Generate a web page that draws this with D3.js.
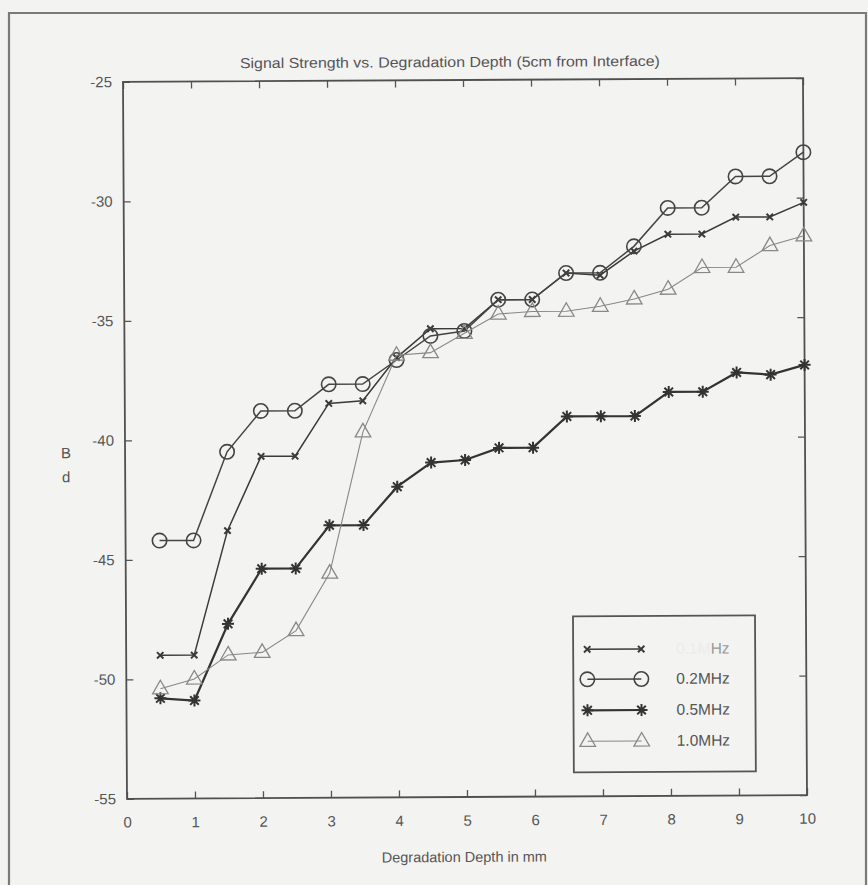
<!DOCTYPE html>
<html>
<head>
<meta charset="utf-8">
<script src="https://cdn.jsdelivr.net/npm/d3@7/dist/d3.min.js"></script>
<style>
  html, body { margin: 0; padding: 0; background: #f3f3f2; }
  svg { display: block; }
  text { font-family: "Liberation Sans", Arial, Helvetica, sans-serif; fill: #555; }
</style>
</head>
<body>
<div id="chart"></div>
<script>
// Degradation depth (mm) at which each reading was taken
const depth = [0.5, 1, 1.5, 2, 2.5, 3, 3.5, 4, 4.5, 5, 5.5, 6, 6.5, 7, 7.5, 8, 8.5, 9, 9.5, 10];

// Signal strength (dB) per frequency
const s01 = [-49.0, -49.0, -43.8, -40.7, -40.7, -38.5, -38.4, -36.6, -35.4, -35.4, -34.2, -34.2, -33.1, -33.2, -32.2, -31.5, -31.5, -30.8, -30.8, -30.2];
const s02 = [-44.2, -44.2, -40.5, -38.8, -38.8, -37.7, -37.7, -36.7, -35.7, -35.5, -34.2, -34.2, -33.1, -33.1, -32.0, -30.4, -30.4, -29.1, -29.1, -28.1];
const s05 = [-50.8, -50.9, -47.7, -45.4, -45.4, -43.6, -43.6, -42.0, -41.0, -40.9, -40.4, -40.4, -39.1, -39.1, -39.1, -38.1, -38.1, -37.3, -37.4, -37.0];
const s10 = [-50.4, -50.0, -49.0, -48.9, -48.0, -45.6, -39.7, -36.5, -36.4, -35.6, -34.8, -34.7, -34.7, -34.5, -34.2, -33.8, -32.9, -32.9, -32.0, -31.6];

const seriesNames = ["0.1MHz", "0.2MHz", "0.5MHz", "1.0MHz"];
const xTicks = [0, 1, 2, 3, 4, 5, 6, 7, 8, 9, 10];
const yTicks = [-55, -50, -45, -40, -35, -30, -25];

const W = 868, H = 885;
const box = { left: 125, right: 805, top: 80, bottom: 797 };

const svg = d3.select("#chart").append("svg")
  .attr("width", W).attr("height", H);

svg.append("rect").attr("width", W).attr("height", H).attr("fill", "#f3f3f2");

// outer page frame
svg.append("path")
  .attr("d", "M9,890 L9,13 L866,13 L866,890")
  .attr("fill", "none").attr("stroke", "#7a7a7a").attr("stroke-width", 2.2);

const g = svg.append("g").attr("transform", "rotate(-0.32,465,440)");

const x = d3.scaleLinear().domain([0, 10]).range([box.left, box.right]);
const y = d3.scaleLinear().domain([-55, -25]).range([box.bottom, box.top]);

// title
g.append("text")
  .attr("x", 452).attr("y", 67)
  .attr("text-anchor", "middle")
  .attr("font-size", 14.5)
  .attr("textLength", 420).attr("lengthAdjust", "spacingAndGlyphs")
  .text("Signal Strength vs. Degradation Depth (5cm from Interface)");

// axes with inward ticks on all four sides
const tickLen = 7;
const plainNum = d => String(d);   // ASCII hyphen for negatives
const axStyle = sel => {
  sel.select(".domain").remove();
  sel.selectAll(".tick line").attr("stroke", "#555").attr("stroke-width", 1.3);
  sel.selectAll(".tick text").attr("fill", "#5a5a5a").attr("font-size", 15)
    .attr("font-family", "\"Liberation Sans\", Arial, sans-serif");
};

g.append("g").attr("transform", `translate(0,${box.bottom})`)
  .call(d3.axisBottom(x).tickValues(xTicks).tickSizeInner(-tickLen).tickSizeOuter(0).tickPadding(18).tickFormat(plainNum))
  .call(axStyle);
g.append("g").attr("transform", `translate(0,${box.top})`)
  .call(d3.axisTop(x).tickValues(xTicks).tickSizeInner(-tickLen).tickSizeOuter(0).tickFormat(""))
  .call(axStyle);
g.append("g").attr("transform", `translate(${box.left},0)`)
  .call(d3.axisLeft(y).tickValues(yTicks).tickSizeInner(-tickLen).tickSizeOuter(0).tickPadding(11).tickFormat(plainNum))
  .call(axStyle);
g.append("g").attr("transform", `translate(${box.right},0)`)
  .call(d3.axisRight(y).tickValues(yTicks).tickSizeInner(-tickLen).tickSizeOuter(0).tickFormat(""))
  .call(axStyle);

// plot frame
g.append("rect")
  .attr("x", box.left).attr("y", box.top)
  .attr("width", box.right - box.left).attr("height", box.bottom - box.top)
  .attr("fill", "none").attr("stroke", "#505050").attr("stroke-width", 1.8);

// axis labels
g.append("text").attr("x", 462).attr("y", 862).attr("text-anchor", "middle")
  .attr("font-size", 14.5).text("Degradation Depth in mm");
g.append("text").attr("x", 66).attr("y", 456).attr("text-anchor", "middle")
  .attr("font-size", 15).text("B");
g.append("text").attr("x", 66).attr("y", 480).attr("text-anchor", "middle")
  .attr("font-size", 15).text("d");

// marker shapes
const markers = {
  x: (sel, c) => sel.append("path").attr("d", "M-3.2,-3.2L3.2,3.2M-3.2,3.2L3.2,-3.2")
    .attr("stroke", c).attr("stroke-width", 2).attr("fill", "none"),
  o: (sel, c) => sel.append("circle").attr("r", 7.2)
    .attr("stroke", c).attr("stroke-width", 1.6).attr("fill", "none"),
  star: (sel, c) => sel.append("path")
    .attr("d", "M-6,0L6,0M0,-6L0,6M-4.3,-4.3L4.3,4.3M-4.3,4.3L4.3,-4.3")
    .attr("stroke", c).attr("stroke-width", 2).attr("fill", "none"),
  tri: (sel, c) => sel.append("path").attr("d", "M0,-8.5L7.8,5L-7.8,5Z")
    .attr("stroke", c).attr("stroke-width", 1.3).attr("fill", "none")
};

const series = [
  { name: seriesNames[0], values: s01, marker: "x", color: "#3a3a3a", lw: 1.5 },
  { name: seriesNames[1], values: s02, marker: "o", color: "#444", lw: 1.5 },
  { name: seriesNames[2], values: s05, marker: "star", color: "#333", lw: 2.2 },
  { name: seriesNames[3], values: s10, marker: "tri", color: "#888", lw: 1.1 }
];

const line = d3.line().x(d => x(d[0])).y(d => y(d[1]));

series.forEach(s => {
  const pts = depth.map((d, i) => [d, s.values[i]]);
  g.append("path").datum(pts).attr("d", line)
    .attr("fill", "none").attr("stroke", s.color).attr("stroke-width", s.lw);
  g.append("g").selectAll("g").data(pts).join("g")
    .attr("transform", d => `translate(${x(d[0])},${y(d[1])})`)
    .each(function () { markers[s.marker](d3.select(this), s.color); });
});

// legend
const leg = { x: 572, y: 617, w: 182, h: 156 };
g.append("rect").attr("x", leg.x).attr("y", leg.y).attr("width", leg.w).attr("height", leg.h)
  .attr("fill", "#f3f3f2").attr("stroke", "#555").attr("stroke-width", 1.8);
const rowY = [650, 680, 711, 742];
series.forEach((s, i) => {
  const ry = rowY[i];
  g.append("line").attr("x1", 586).attr("x2", 640).attr("y1", ry).attr("y2", ry)
    .attr("stroke", s.color).attr("stroke-width", s.lw);
  [586, 640].forEach(mx => {
    const m = g.append("g").attr("transform", `translate(${mx},${ry})`);
    markers[s.marker](m, s.color);
  });
  const t = g.append("text").attr("x", 675).attr("y", ry + 5).attr("font-size", 15.5);
  if (i === 0) {
    // first label is badly faded on the page
    t.append("tspan").attr("fill", "#ececeb").text("0.1M");
    t.append("tspan").attr("fill", "#9a9a9a").text("Hz");
  } else {
    t.text(s.name);
  }
});
</script>
</body>
</html>
